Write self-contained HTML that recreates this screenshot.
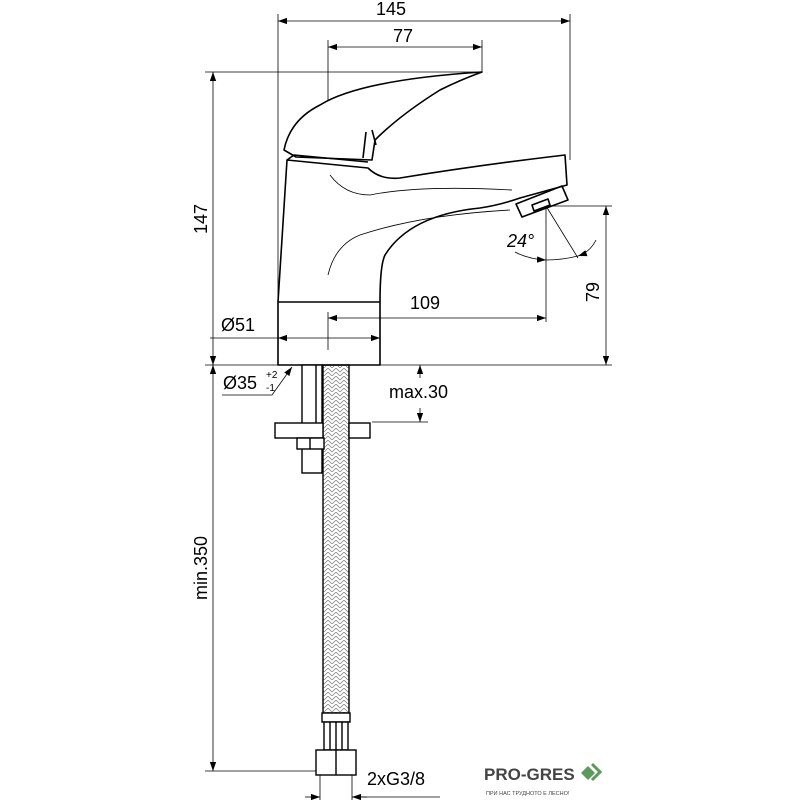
<!DOCTYPE html>
<html><head><style>html,body{margin:0;padding:0;background:#fff}svg{display:block}</style></head><body>
<svg width="800" height="800" viewBox="0 0 800 800" xmlns="http://www.w3.org/2000/svg" font-family="Liberation Sans, sans-serif">
<defs>
<marker id="a" viewBox="0 0 10 10" refX="10" refY="5" markerWidth="9" markerHeight="9" orient="auto-start-reverse" markerUnits="userSpaceOnUse"><path d="M0,1.5L10,5L0,8.5z" fill="#000"/></marker>
<pattern id="br" width="8" height="8" patternUnits="userSpaceOnUse"><path d="M0,0L4,4L8,0M0,4L4,8L8,4" fill="none" stroke="#888" stroke-width="0.8"/></pattern>
</defs>
<g fill="none" stroke="#000" stroke-width="0.8">
<line x1="278" y1="14" x2="278" y2="302"/>
<line x1="570" y1="14" x2="570" y2="160"/>
<line x1="328" y1="40" x2="328" y2="100"/>
<line x1="482" y1="40" x2="482" y2="72"/>
<line x1="205" y1="72" x2="482" y2="72"/>
<line x1="205" y1="365" x2="612" y2="365"/>
<line x1="548" y1="206" x2="612" y2="206"/>
<line x1="546" y1="206" x2="546" y2="322"/>
<line x1="328" y1="312" x2="328" y2="350"/>
<line x1="372" y1="422" x2="428" y2="422"/>
<line x1="205" y1="771" x2="316" y2="771"/>
<line x1="320" y1="775" x2="320" y2="800"/>
<line x1="352" y1="775" x2="352" y2="800"/>
<line x1="278" y1="21" x2="570" y2="21" marker-start="url(#a)" marker-end="url(#a)"/>
<line x1="328" y1="47" x2="482" y2="47" marker-start="url(#a)" marker-end="url(#a)"/>
<line x1="213" y1="72" x2="213" y2="365" marker-start="url(#a)" marker-end="url(#a)"/>
<line x1="606" y1="206" x2="606" y2="365" marker-start="url(#a)" marker-end="url(#a)"/>
<line x1="328" y1="318" x2="546" y2="318" marker-start="url(#a)" marker-end="url(#a)"/>
<line x1="210" y1="338" x2="278" y2="338"/>
<line x1="278" y1="338" x2="380" y2="338" marker-start="url(#a)" marker-end="url(#a)"/>
<line x1="213" y1="365" x2="213" y2="771" marker-start="url(#a)" marker-end="url(#a)"/>
<line x1="420" y1="365" x2="420" y2="378" marker-start="url(#a)"/>
<line x1="420" y1="408" x2="420" y2="422" marker-end="url(#a)"/>
<line x1="305" y1="797" x2="320" y2="797" marker-end="url(#a)"/>
<line x1="367" y1="797" x2="352" y2="797" marker-end="url(#a)"/>
<line x1="352" y1="797" x2="440" y2="797"/>
<polyline points="222,395 272,395 292,367" marker-end="url(#a)"/>
<line x1="546" y1="206" x2="578" y2="258"/>
<path d="M515,252 Q528,259 546,260" marker-end="url(#a)"/>
<path d="M596,240 Q590,252 578,256" marker-end="url(#a)"/>
<path d="M546,260 Q562,260 578,256"/>
</g>
<g fill="none" stroke="#000" stroke-width="1.6" stroke-linejoin="round">
<rect x="278" y="302" width="102" height="63"/>
<path d="M278,302 L287,160 L368,168 Q380,180 400,178 Q480,165 565,155 L567,185 L520,198 Q500,205 480,208 Q410,215 385,255 Q380,265 380,302"/>
<path d="M287,160 L294,155 L368,162"/>
<path d="M284,150 Q290,120 320,105 Q360,80 482,72 Q460,80 440,90 Q400,115 375,140 L372,160 L296,157 Z"/>
<path d="M366,132 L363,158 M372,130 L376,145"/>
<path d="M516,204 L562,186 L568,200 L522,217 Z"/>
<path d="M532,205 L548,199 L550,205 L534,211 Z"/>
</g>
<g fill="none" stroke="#000" stroke-width="0.8">
<path d="M330,175 Q345,195 370,195 Q420,185 512,190"/>
<path d="M328,275 Q335,245 360,235 Q420,215 510,210"/>
</g>
<rect x="323" y="365" width="26" height="348" fill="url(#br)" stroke="#000" stroke-width="1.4"/>
<g fill="#fff" stroke="#000" stroke-width="1.4">
<rect x="302" y="365" width="20" height="108"/>
<line x1="316" y1="365" x2="316" y2="423"/>
<rect x="275" y="423" width="48" height="15"/>
<rect x="349" y="423" width="21" height="15"/>
<rect x="297" y="438" width="27" height="11"/>
<line x1="310" y1="438" x2="310" y2="449"/>
<rect x="322" y="713" width="28" height="9"/>
<rect x="324" y="722" width="24" height="28"/>
<line x1="330" y1="722" x2="330" y2="750"/><line x1="336" y1="722" x2="336" y2="750"/><line x1="342" y1="722" x2="342" y2="750"/>
<rect x="316" y="750" width="40" height="25"/>
<line x1="336" y1="750" x2="336" y2="775"/>
</g>
<g fill="#000" font-size="18">
<text x="376" y="15">145</text>
<text x="393" y="42">77</text>
<text x="410" y="309">109</text>
<text x="221" y="331">Ø51</text>
<text x="223" y="389">Ø35</text>
<text x="266" y="378" font-size="10">+2</text>
<text x="266" y="391" font-size="10">-1</text>
<text x="389" y="398">max.30</text>
<text x="367" y="785">2xG3/8</text>
<text x="507" y="247" font-style="italic">24°</text>
<text transform="translate(207,234) rotate(-90)">147</text>
<text transform="translate(599,302) rotate(-90)">79</text>
<text transform="translate(207,600) rotate(-90)">min.350</text>
</g>
<g>
<text x="484" y="780" font-size="17" font-weight="bold" fill="#444">PRO-GRES</text>
<text x="486" y="795" font-size="5.5" fill="#444">ПРИ НАС ТРУДНОТО Е ЛЕСНО!</text>
<path d="M581,773 L588,766 L595,773 L588,780Z" fill="#5a9a5a"/>
<path d="M592,764 L600,772 L592,780" fill="none" stroke="#5a9a5a" stroke-width="3"/>
</g>
</svg>
</body></html>
